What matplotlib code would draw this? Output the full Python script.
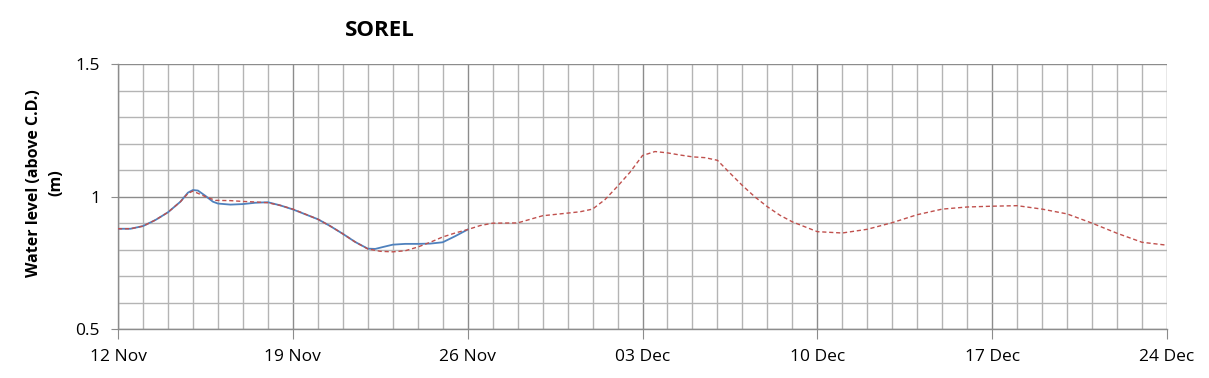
import matplotlib
matplotlib.use("Agg")
import matplotlib.pyplot as plt
import matplotlib.dates as mdates
from matplotlib.ticker import MultipleLocator, FixedLocator
import datetime as dt

plt.rcParams['font.family'] = ['Open Sans', 'DejaVu Sans']

start = dt.datetime(2023, 11, 12)

# Forecast / predicted water level (red dashed), day offsets from 12 Nov
pred_days = [0, 0.5, 1, 1.5, 2, 2.5, 2.8, 3, 3.5, 3.9, 4.5, 5, 5.5, 6, 6.5, 7, 8, 8.5, 9, 9.5,
             10, 10.5, 11, 11.5, 12, 12.5, 13, 13.5, 14, 14.5, 15, 16, 17, 18, 18.5,
             19, 19.5, 20, 20.5, 21, 21.5, 22, 22.5, 23, 23.5, 24, 24.5, 25, 25.5, 26, 26.5,
             27, 28, 29, 30, 31, 32, 33, 34, 35, 36, 37, 38, 39, 40, 41, 42]
pred_vals = [0.879, 0.879, 0.889, 0.912, 0.941, 0.981, 1.012, 1.021, 1.000, 0.986, 0.985,
             0.982, 0.980, 0.977, 0.967, 0.953, 0.915, 0.889, 0.860, 0.829,
             0.803, 0.794, 0.792, 0.796, 0.810, 0.828, 0.848, 0.863, 0.876, 0.891,
             0.900, 0.901, 0.928, 0.938, 0.943,
             0.953, 0.989, 1.039, 1.092, 1.155, 1.170, 1.165, 1.157, 1.150, 1.147, 1.137,
             1.089, 1.042, 0.999, 0.962, 0.930,
             0.905, 0.868, 0.863, 0.877, 0.902, 0.932, 0.953, 0.961, 0.964, 0.966,
             0.953, 0.935, 0.900, 0.862, 0.828, 0.817]

# Observed water level (blue solid)
obs_days = [0, 0.5, 1, 1.5, 2, 2.5, 2.8, 3, 3.2, 3.5, 3.8, 4, 4.5, 5, 5.5, 6, 6.5, 7, 8, 8.5,
            9, 9.5, 10, 10.3, 10.6, 11, 11.5, 12, 12.5, 13, 13.5, 14]
obs_vals = [0.879, 0.879, 0.889, 0.912, 0.941, 0.981, 1.015, 1.025, 1.023, 1.003, 0.981,
            0.974, 0.970, 0.972, 0.977, 0.979, 0.967, 0.952, 0.915, 0.889,
            0.860, 0.829, 0.804, 0.803, 0.810, 0.819, 0.822, 0.822, 0.823, 0.828, 0.851, 0.876]

# Tick labels (every 7 days)
tick_offsets = [0, 7, 14, 21, 28, 35, 42]
yticks = [0.5, 1.0, 1.5]

title = "SOREL"
ylabel = "Water level (above C.D.)\n(m)"

pred_t = [start + dt.timedelta(days=d) for d in pred_days]
obs_t = [start + dt.timedelta(days=d) for d in obs_days]
tick_t = [mdates.date2num(start + dt.timedelta(days=d)) for d in tick_offsets]

fig = plt.figure(figsize=(12.09, 3.78), dpi=100)
ax = fig.add_axes([118/1209, 1-329.3/378, (1167-118)/1209, (329.3-64)/378])

ax.plot(obs_t, obs_vals, color='#4F81BD', lw=1.3, zorder=3, solid_joinstyle='round')
ax.plot(pred_t, pred_vals, color='#C0504D', lw=1.0, ls=(0, (3, 2)), zorder=4)

ax.set_xlim(start, start + dt.timedelta(days=42))
ax.set_ylim(0.5, 1.5)

ax.xaxis.set_major_locator(FixedLocator(tick_t))
ax.xaxis.set_major_formatter(mdates.DateFormatter('%d %b'))
ax.xaxis.set_minor_locator(mdates.DayLocator())
ax.yaxis.set_major_locator(FixedLocator(yticks))
ax.yaxis.set_minor_locator(MultipleLocator(0.1))
ax.yaxis.set_major_formatter(matplotlib.ticker.FuncFormatter(lambda v, p: f"{v:g}"))

ax.grid(which='minor', color='#b4b4b4', lw=1.0)
ax.grid(which='major', color='#8c8c8c', lw=1.0)
ax.set_axisbelow(True)

for s in ['top', 'right']:
    ax.spines[s].set_visible(False)
for s in ['left', 'bottom']:
    ax.spines[s].set_color('#8c8c8c')
    ax.spines[s].set_linewidth(1.0)

ax.tick_params(which='minor', length=0)
ax.tick_params(axis='x', which='major', length=7, color='#8c8c8c', labelsize=12.5, pad=7)
ax.tick_params(axis='y', which='major', length=5, color='#8c8c8c', labelsize=12.5, pad=8)

fig.text(45/1209, 1-183/378, ylabel, fontsize=11.5, fontweight='bold', rotation=90,
         ha='center', va='center', multialignment='center', linespacing=1.55)
fig.text(380/1209, 1-30/378, title, fontsize=16, fontweight='bold', ha='center', va='center')

fig.savefig('out.png', dpi=100)
